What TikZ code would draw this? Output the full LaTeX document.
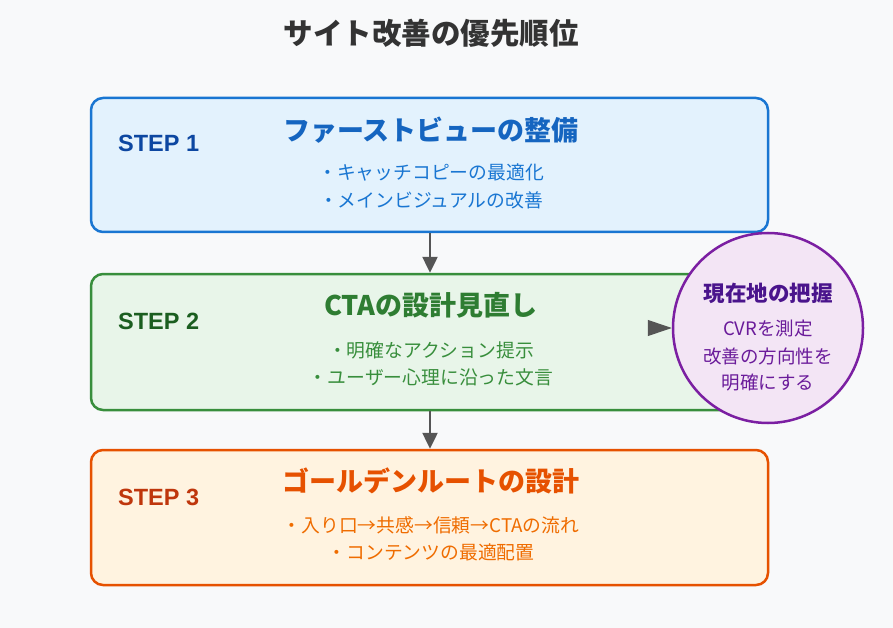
\documentclass[tikz,border=0pt]{standalone}
\usepackage{fontspec}
\setmainfont{Noto Sans CJK JP}
\newfontfamily\lat{Liberation Sans}
\usetikzlibrary{arrows.meta}
\definecolor{bg}{HTML}{F8F9FA}
\definecolor{ttl}{HTML}{333333}
\definecolor{arr}{HTML}{555555}
\definecolor{bS}{HTML}{1976D2}\definecolor{bF}{HTML}{E3F2FD}\definecolor{bT}{HTML}{1565C0}\definecolor{bL}{HTML}{0D47A1}
\definecolor{gS}{HTML}{388E3C}\definecolor{gF}{HTML}{E8F5E9}\definecolor{gT}{HTML}{2E7D32}\definecolor{gL}{HTML}{1B5E20}
\definecolor{oS}{HTML}{E65100}\definecolor{oF}{HTML}{FFF3E0}\definecolor{oT}{HTML}{E65100}\definecolor{oL}{HTML}{BF360C}\definecolor{oB}{HTML}{EF6C00}
\definecolor{pS}{HTML}{7B1FA2}\definecolor{pF}{HTML}{F3E5F5}\definecolor{pT}{HTML}{4A148C}\definecolor{pB}{HTML}{6A1B9A}
\tikzset{
  stepbox/.style={draw, rounded corners=12pt, line width=2.5pt, minimum width=677pt, inner sep=0pt},
  steplabel/.style={anchor=west, inner sep=0pt, font=\lat\fontsize{23.5}{25}\selectfont\bfseries},
  boxtitle/.style={inner sep=0pt, font=\fontsize{27}{29}\selectfont\bfseries},
  bullet/.style={inner sep=0pt, font=\fontsize{18.8}{21}\selectfont},
  flow/.style={draw=arr, line width=2.5pt, -{Triangle[length=16pt,width=15pt]}},
}
\begin{document}
\begin{tikzpicture}[x=1pt,y=-1pt]
\fill[bg] (0,0) rectangle (893,628);
\useasboundingbox (0,0) rectangle (893,628);
\node[inner sep=0pt, text=ttl, font=\fontsize{29.5}{31}\selectfont\bfseries] (title) at (431,33) {サイト改善の優先順位};
% boxes
\node[stepbox, draw=bS, fill=bF, minimum height=134pt] (box1) at (429.5,165) {};
\node[stepbox, draw=gS, fill=gF, minimum height=136pt] (box2) at (429.5,342) {};
\node[stepbox, draw=oS, fill=oF, minimum height=135pt] (box3) at (429.5,517.5) {};
% box 1 text
\node[steplabel, text=bL] (s1) at (118,143) {STEP 1};
\node[boxtitle, text=bT] (t1) at (431,130) {ファーストビューの整備};
\node[bullet, text=bS] (b11) at (431,172) {・キャッチコピーの最適化};
\node[bullet, text=bS] (b12) at (431,200) {・メインビジュアルの改善};
% box 2 text
\node[steplabel, text=gL] (s2) at (118,321) {STEP 2};
\node[boxtitle, text=gT] (t2) at (431,305) {CTAの設計見直し};
\node[bullet, text=gS] (b21) at (431,350) {・明確なアクション提示};
\node[bullet, text=gS] (b22) at (431,377) {・ユーザー心理に沿った文言};
% box 3 text
\node[steplabel, text=oL] (s3) at (118,497) {STEP 3};
\node[boxtitle, text=oT] (t3) at (431,481) {ゴールデンルートの設計};
\node[bullet, text=oB] (b31) at (431,525) {・入り口→共感→信頼→CTAの流れ};
\node[bullet, text=oB] (b32) at (431,552) {・コンテンツの最適配置};
% arrows
\draw[flow] (box1.south -| 430,0) -- (box2.north -| 430,0);
\draw[flow] (box2.south -| 430,0) -- (box3.north -| 430,0);
% circle
\coordinate (cin) at (649,328);
\node[circle, draw=pS, fill=pF, line width=2.5pt, minimum size=190pt, inner sep=0pt] (circ) at (768,328) {};
\draw[draw=arr, line width=1pt, -{Triangle[length=24pt,width=16pt]}] (cin) -- (circ.west);
\node[inner sep=0pt, text=pT, font=\fontsize{21.5}{23}\selectfont\bfseries] (c1) at (768,293) {現在地の把握};
\node[inner sep=0pt, text=pB, font=\fontsize{18.5}{20}\selectfont] (c2) at (768,329) {CVRを測定};
\node[inner sep=0pt, text=pB, font=\fontsize{18.5}{20}\selectfont] (c3) at (768,356) {改善の方向性を};
\node[inner sep=0pt, text=pB, font=\fontsize{18.5}{20}\selectfont] (c4) at (768,383) {明確にする};
\end{tikzpicture}
\end{document}
